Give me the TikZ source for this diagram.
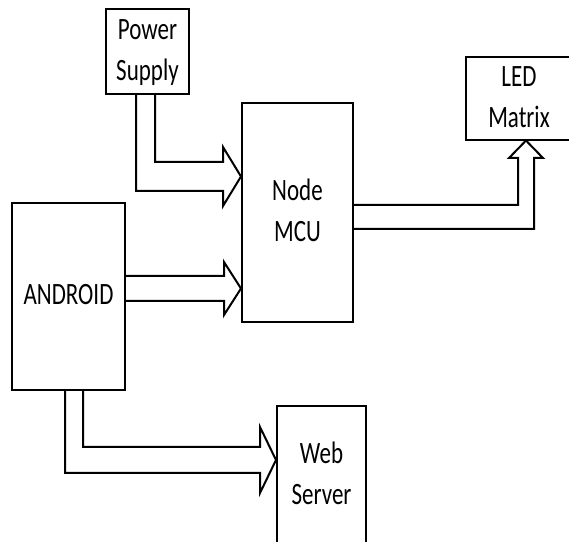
\documentclass[tikz,border=0pt]{standalone}
\usepackage{fontspec}
\usepackage{graphicx}
\setmainfont{Carlito}
\usetikzlibrary{calc}
\newcommand{\tall}[1]{\scalebox{1}[1.35]{\begin{tabular}{@{}c@{}}#1\end{tabular}}}

\begin{document}
\begin{tikzpicture}[
  x=0.75pt,y=-0.75pt,
  every node/.style={font=\fontsize{17.25}{22.8}\selectfont,align=center},
  box/.style={draw,line width=1.5pt,inner sep=0pt},
  arr/.style={line width=1.5pt,line join=miter}
]
\useasboundingbox (0,0) rectangle (569,542);
\node[box,minimum width=62.25pt,minimum height=63.75pt] (ps) at (147.5,51.5) {\tall{Power\\Supply}};
\node[box,minimum width=83.25pt,minimum height=164.25pt] (mcu) at (297.5,212.5) {\tall{Node\\MCU}};
\node[box,minimum width=79.5pt,minimum height=57.75pt] (led) at (519,98.5) {\tall{LED\\Matrix}};
\node[box,minimum width=84.75pt,minimum height=140.25pt] (and) at (68.5,296.5) {\tall{ANDROID}};
\node[box,minimum width=66.75pt,minimum height=104.25pt] (web) at (321.5,475.5) {\tall{Web\\Server}};
\draw[arr] (ps.south -| 155,0) |- (223,162) -- (223,147) -- (mcu.west |- 0,176.5) -- (223,206) -- (223,191) -| (ps.south -| 136,0);
\draw[arr] (and.east |- 0,276) -- (224,276) -- (224,262) -- (mcu.west |- 0,288.5) -- (224,315) -- (224,301) -- (and.east |- 0,301);
\draw[arr] (and.south -| 83,0) |- (260,447) -- (260,427) -- (web.west |- 0,460) -- (260,493) -- (260,473) -| (and.south -| 65,0);
\draw[arr] (mcu.east |- 0,205) -| (518,158) -- (509,158) -- (led.south -| 526,0) -- (543,158) -- (534,158) |- (mcu.east |- 0,229);
\end{tikzpicture}
\end{document}
